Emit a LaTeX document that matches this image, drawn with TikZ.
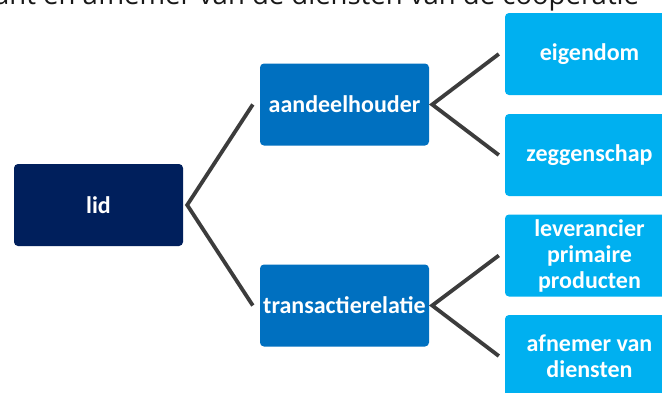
\documentclass[tikz,border=0pt]{standalone}
\usepackage{fontspec}
\setmainfont{Carlito}
\newfontfamily\headfont{Open Sans}
\definecolor{navy}{HTML}{001F5C}
\definecolor{midblue}{HTML}{0070C0}
\definecolor{skyblue}{HTML}{00B0F0}
\definecolor{linkgray}{HTML}{3C3C3C}
\tikzset{
  box/.style={rectangle, rounded corners=4pt, minimum width=169pt, minimum height=82pt,
    inner sep=0pt, align=center, text=white,
    font=\bfseries\fontsize{24}{26}\selectfont},
  rootbox/.style={box, fill=navy},
  midbox/.style={box, fill=midblue},
  leafbox/.style={box, fill=skyblue},
  link/.style={draw=linkgray, line width=3.7pt, line join=miter, line cap=butt},
  linkshade/.style={draw=black, opacity=0.16, line width=4pt, line join=miter}
}
\begin{document}
\begin{tikzpicture}[x=1pt,y=-1pt]
\useasboundingbox (0,0) rectangle (662,392);
\clip (0,0) rectangle (662,392);
\fill[white] (0,0) rectangle (662,392);

% heading line, mostly above the top edge
\node[anchor=base west, inner sep=0pt, text=black!90,
      font=\headfont\fontsize{27.5}{32}\selectfont] (kop) at (-6,4)
  {ant en afnemer van de diensten van de coöperatie};

% boxes
\node[rootbox] (lid)   at (98.5,205)   {lid};
\node[midbox]  (aand)  at (344.5,104.5) {aandeelhouder};
\node[midbox]  (trans) at (344.5,305.5) {transactierelatie};
\node[leafbox] (eig)   at (589.5,54)   {eigendom};
\node[leafbox] (zeg)   at (589.5,155)  {zeggenschap};
\node[leafbox] (lev)   at (589.5,255.5) {leverancier\\primaire\\producten};
\node[leafbox] (afn)   at (589.5,356)  {afnemer van\\diensten};

% soft shadows under the connectors
\begin{scope}[shift={(1.2,1.6)}]
\draw[linkshade] ([xshift=-7pt]aand.west) -- ([xshift=4pt]lid.east) -- ([xshift=-7pt]trans.west);
\draw[linkshade] ([xshift=-6pt]eig.west) -- ([xshift=3pt]aand.east) -- ([xshift=-6pt]zeg.west);
\draw[linkshade] ([xshift=-6pt]lev.west) -- ([xshift=3pt]trans.east) -- ([xshift=-6pt]afn.west);
\end{scope}

% connectors
\draw[link] ([xshift=-7pt]aand.west) -- ([xshift=4pt]lid.east) -- ([xshift=-7pt]trans.west);
\draw[link] ([xshift=-6pt]eig.west) -- ([xshift=3pt]aand.east) -- ([xshift=-6pt]zeg.west);
\draw[link] ([xshift=-6pt]lev.west) -- ([xshift=3pt]trans.east) -- ([xshift=-6pt]afn.west);
\end{tikzpicture}
\end{document}
